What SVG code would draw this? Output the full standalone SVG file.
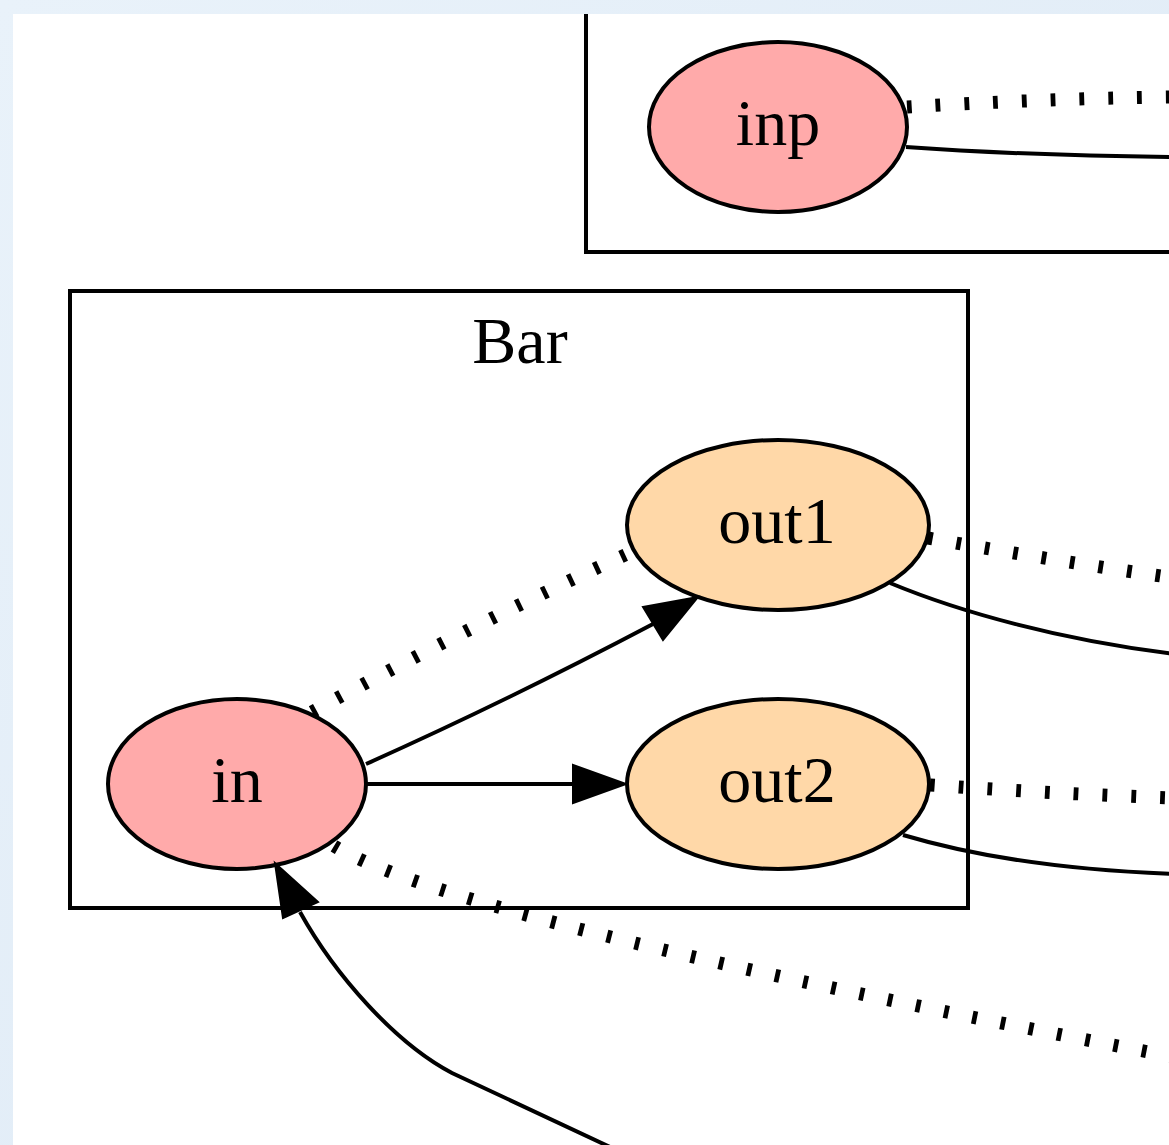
<svg xmlns="http://www.w3.org/2000/svg" width="1169" height="1145" viewBox="0 0 1169 1145">
  <style>
    .cluster { fill: none; stroke: #000; stroke-width: 4; }
    .node ellipse { stroke: #000; stroke-width: 4; }
    .src ellipse { fill: #ffaaaa; }
    .sink ellipse { fill: #ffd8a8; }
    text { font-family: "Liberation Serif", "Times New Roman", serif; font-size: 66px; fill: #000; text-anchor: middle; }
    .edge { fill: none; stroke: #000; stroke-width: 4; }
    .dotted { fill: none; stroke: #000; stroke-width: 13; stroke-dasharray: 4.8 24; stroke-linecap: butt; }
    .head { fill: #000; stroke: #000; stroke-width: 2; }
  </style>
  <defs>
    <linearGradient id="page" x1="0" y1="0" x2="1" y2="1">
      <stop offset="0" stop-color="#e9f2fa"/>
      <stop offset="1" stop-color="#dde9f5"/>
    </linearGradient>
    <clipPath id="canvas">
      <rect x="13" y="14" width="1156" height="1131"/>
    </clipPath>
  </defs>

  <!-- page backdrop and drawing canvas -->
  <rect x="0" y="0" width="1169" height="1145" fill="url(#page)"/>
  <rect x="13" y="14" width="1156" height="1131" fill="#fff"/>

  <g clip-path="url(#canvas)">
    <!-- clusters -->
    <g id="cluster_top">
      <rect class="cluster" x="586" y="-200" width="700" height="452"/>
    </g>
    <g id="cluster_bar">
      <rect class="cluster" x="70" y="291" width="898" height="617"/>
      <text x="520" y="363">Bar</text>
    </g>

    <!-- nodes -->
    <g id="node_inp" class="node src">
      <ellipse cx="778" cy="127" rx="129" ry="85"/>
      <text x="778" y="145">inp</text>
    </g>
    <g id="node_out1" class="node sink">
      <ellipse cx="778" cy="525" rx="151" ry="85"/>
      <text x="777" y="543">out1</text>
    </g>
    <g id="node_out2" class="node sink">
      <ellipse cx="778" cy="784" rx="151" ry="85"/>
      <text x="777" y="802">out2</text>
    </g>
    <g id="node_in" class="node src">
      <ellipse cx="237" cy="784" rx="129" ry="85"/>
      <text x="237" y="802">in</text>
    </g>

    <!-- connectors -->
    <g id="edges">
      <path class="dotted" d="M907,107 C990,102 1080,98 1175,97"/>
      <path class="edge" d="M906,147 C990,153 1080,156 1175,157"/>

      <path class="dotted" d="M928,538 C1000,551 1090,566 1175,578"/>
      <path class="edge" d="M890,583 C960,612 1060,640 1175,654"/>

      <path class="dotted" d="M930,785 C1000,790 1090,795 1175,798"/>
      <path class="edge" d="M903,835 C970,855 1060,870 1175,874"/>

      <path class="dotted" d="M312,712 C410,658 530,598 636,550"/>
      <path class="edge" d="M366,764 C460,722 560,673 653,624"/>
      <polygon class="head" points="643,607 698,597 663,640"/>

      <path class="edge" d="M367,784 L573,784"/>
      <polygon class="head" points="573,765 626,784 573,803"/>

      <path class="dotted" d="M334,846 C420,897 700,966 1175,1057"/>

      <path class="edge" d="M610,1147 L452,1073 C395,1043 335,975 300,912"/>
      <polygon class="head" points="283,918 275,863 318,902"/>
    </g>
  </g>
</svg>
